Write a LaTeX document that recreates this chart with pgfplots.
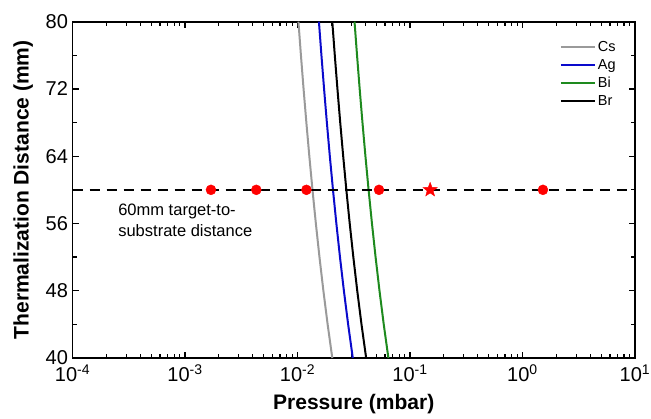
\documentclass[border=0pt]{standalone}
\usepackage{fontspec}
\setmainfont{Liberation Sans}
\usepackage{pgfplots}
\pgfplotsset{compat=1.18}
\definecolor{csgray}{HTML}{9A9A9A}
\definecolor{agblue}{HTML}{0A0ACC}
\definecolor{bigreen}{HTML}{1E8A1E}
% filled five-pointed star
\pgfdeclareplotmark{fstar}{%
  \pgfpathmoveto{\pgfpointpolar{90}{\pgfplotmarksize}}%
  \pgfpathlineto{\pgfpointpolar{126}{0.42\pgfplotmarksize}}%
  \pgfpathlineto{\pgfpointpolar{162}{\pgfplotmarksize}}%
  \pgfpathlineto{\pgfpointpolar{198}{0.42\pgfplotmarksize}}%
  \pgfpathlineto{\pgfpointpolar{234}{\pgfplotmarksize}}%
  \pgfpathlineto{\pgfpointpolar{270}{0.42\pgfplotmarksize}}%
  \pgfpathlineto{\pgfpointpolar{306}{\pgfplotmarksize}}%
  \pgfpathlineto{\pgfpointpolar{342}{0.42\pgfplotmarksize}}%
  \pgfpathlineto{\pgfpointpolar{18}{\pgfplotmarksize}}%
  \pgfpathlineto{\pgfpointpolar{54}{0.42\pgfplotmarksize}}%
  \pgfpathclose
  \pgfusepathqfillstroke}
\begin{document}
\begin{tikzpicture}
\begin{axis}[
  scale only axis,
  width=562pt, height=336pt,
  xmode=log,
  xmin=1e-4, xmax=10,
  ymin=40, ymax=80,
  xtick={1e-4,1e-3,1e-2,1e-1,1,10},
  xticklabels={10\textsuperscript{-4},10\textsuperscript{-3},10\textsuperscript{-2},10\textsuperscript{-1},10\textsuperscript{0},10\textsuperscript{1}},
  ytick={40,48,56,64,72,80},
  minor y tick num=1,
  tick align=inside,
  major tick length=6pt,
  minor tick length=4pt,
  every tick/.style={black, line width=1.2pt},
  axis line style={line width=1.6pt},
  /pgf/number format/assume math mode=true,
  ticklabel style={font=\fontsize{20}{23}\selectfont},
  xticklabel style={yshift=-3pt},
  yticklabel style={xshift=-1pt},
  xlabel={\textbf{Pressure (mbar)}},
  ylabel={\textbf{Thermalization Distance (mm)}},
  label style={font=\fontsize{21}{24}\selectfont},
  xlabel style={yshift=-5pt},
  ylabel style={yshift=6pt},
  legend style={draw=none, fill=none, at={(0.975,0.955)}, anchor=north east,
    font=\fontsize{14.5}{16}\selectfont, row sep=2.5pt},
  legend cell align=left,
  legend image code/.code={\draw[#1, line width=2pt] plot coordinates {(0pt,0pt) (34pt,0pt)};},
  clip=false,
]
\addplot[csgray, line width=2pt] coordinates {
(0.020375,40) (0.018523,44) (0.016979,48) (0.015673,52) (0.014554,56) (0.013583,60)
(0.012734,64) (0.011985,68) (0.011319,72) (0.010724,76) (0.010188,80)};
\addlegendentry{Cs}
\addplot[agblue, line width=2pt] coordinates {
(0.031,40) (0.028182,44) (0.025833,48) (0.023846,52) (0.022143,56) (0.020667,60)
(0.019375,64) (0.018235,68) (0.017222,72) (0.016316,76) (0.0155,80)};
\addlegendentry{Ag}
\addplot[bigreen, line width=2pt] coordinates {
(0.06425,40) (0.058409,44) (0.053542,48) (0.049423,52) (0.045893,56) (0.042833,60)
(0.040156,64) (0.037794,68) (0.035694,72) (0.033816,76) (0.032125,80)};
\addlegendentry{Bi}
\addplot[black, line width=2pt] coordinates {
(0.04075,40) (0.037045,44) (0.033958,48) (0.031346,52) (0.029107,56) (0.027167,60)
(0.025469,64) (0.023971,68) (0.022639,72) (0.021447,76) (0.020375,80)};
\addlegendentry{Br}
\addplot[black, line width=1.4pt, dash pattern=on 10pt off 7pt, forget plot]
  coordinates {(1e-4,60) (10,60)};
\addplot[only marks, mark=*, mark size=5pt, red, forget plot]
  coordinates {(0.0017,60) (0.0043,60) (0.012,60) (0.053,60) (1.52,60)};
\addplot[only marks, mark=fstar, mark size=7.5pt, red, forget plot,
  mark options={fill=red, line width=0.4pt}] coordinates {(0.151,60)};
\node[anchor=north west, align=left, font=\fontsize{16.5}{21}\selectfont, inner sep=0pt]
  at (rel axis cs:0.081,0.46) {60mm target-to-\\substrate distance};
\coordinate (bl) at (rel axis cs:0,0);
\coordinate (tr) at (rel axis cs:1,1);
\end{axis}
\pgfresetboundingbox
\path ([xshift=-72.5pt,yshift=-60.3pt]bl) rectangle ([xshift=16pt,yshift=21.7pt]tr);
\end{tikzpicture}
\end{document}
